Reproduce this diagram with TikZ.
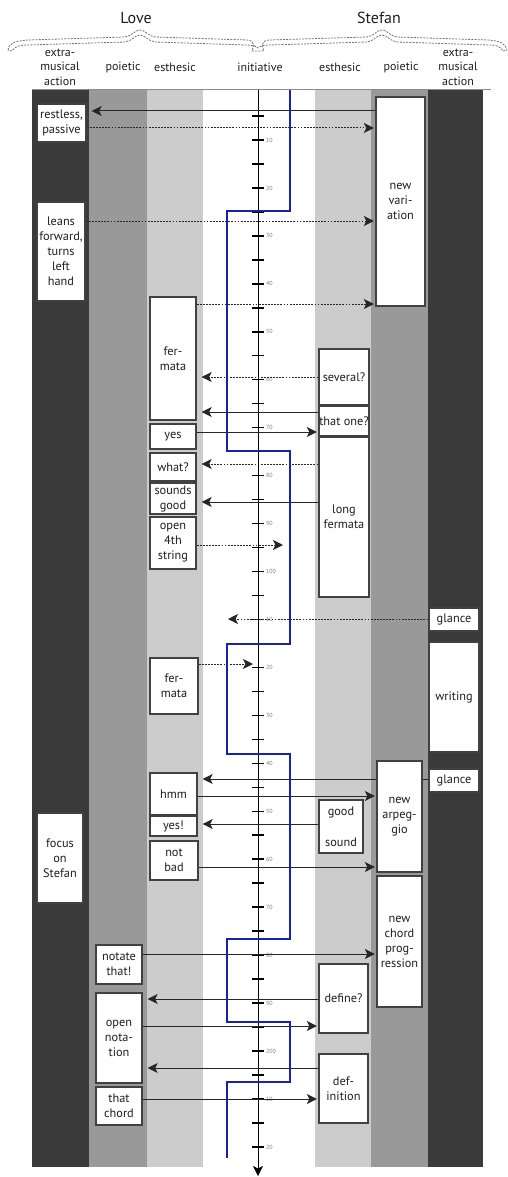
\documentclass[tikz,border=0pt]{standalone}
\usepackage{fontspec}
\setmainfont{PT Sans}
\usetikzlibrary{arrows.meta}
\definecolor{colDark}{RGB}{58,58,58}
\definecolor{colMid}{RGB}{153,153,153}
\definecolor{colLight}{RGB}{204,204,204}
\definecolor{lineBlue}{RGB}{25,35,170}
\definecolor{boxEdge}{RGB}{65,65,65}
\definecolor{txt}{RGB}{30,30,30}
\pgfdeclarelayer{bgl}
\pgfdeclarelayer{arrl}
\pgfsetlayers{bgl,arrl,main}
\begin{document}
\begin{tikzpicture}[x=1pt,y=-1pt,
  box/.style={draw=boxEdge, line width=1.4pt, fill=white, inner sep=0pt, align=center,
    font=\fontsize{12.3}{15}\selectfont, text=txt},
  hdr/.style={font=\fontsize{12}{14.5}\selectfont, text=txt, align=center, inner sep=0pt},
  who/.style={font=\fontsize{16}{18}\selectfont, text=txt, inner sep=0pt},
  arr/.style={-{Stealth[length=10pt,width=10pt,inset=2.5pt]}, line width=1pt, draw=black!85},
  darr/.style={arr, dash pattern=on 1.8pt off 1.3pt},
  gapL/.style={shorten >=5pt},
  gapR/.style={shorten >=1.5pt},
  axisline/.style={-{Stealth[length=10pt,width=10pt,inset=2.5pt]}, line width=1pt, draw=black},
  tickmark/.style={line width=1.5pt, draw=black},
  ticklbl/.style={font=\fontsize{6}{6}\selectfont, text=black!50, anchor=west, inner sep=0pt},
  blueline/.style={draw=lineBlue, line width=2.4pt},
  bracestyle/.style={draw=black!55, line width=0.8pt, dash pattern=on 2pt off 1.2pt}
]
\useasboundingbox (0,0) rectangle (508,1177);

% header
\node[who] (love) at (136,18) {Love};
\node[who] (stefan) at (379,18) {Stefan};
\draw[bracestyle] (8,50) .. controls (9,43) and (14,41) .. (28,40) -- (125,37)
  .. controls (132,36) and (135,30) .. (140,30) .. controls (145,30) and (148,36) .. (155,37)
  -- (247,40) .. controls (251,40) and (253,42) .. (254,45) -- (252,51) -- (264,51) -- (262,45)
  .. controls (263,42) and (265,40) .. (269,40) -- (367,37)
  .. controls (374,36) and (377,30) .. (382,30) .. controls (387,30) and (390,36) .. (397,37)
  -- (488,40) .. controls (500,41) and (505,43) .. (507,50) -- (503,51)
  .. controls (500,46) and (496,45) .. (488,45) -- (397,42)
  .. controls (390,41) and (387,35) .. (382,35) .. controls (377,35) and (374,41) .. (367,42)
  -- (270,45) .. controls (264,45) and (260,46) .. (258,48) .. controls (256,46) and (252,45) .. (246,45)
  -- (155,42) .. controls (148,41) and (145,35) .. (140,35) .. controls (135,35) and (132,41) .. (125,42)
  -- (28,45) .. controls (20,45) and (15,46) .. (12,51) -- cycle;

\node[hdr] (hExL) at (60,67) {extra-\\musical\\action};
\node[hdr] (hPoL) at (123,67) {poietic};
\node[hdr] (hEsL) at (175,67) {esthesic};
\node[hdr] (hIni) at (260,67) {initiative};
\node[hdr] (hEsR) at (340,67) {esthesic};
\node[hdr] (hPoR) at (401,67) {poietic};
\node[hdr] (hExR) at (458,67) {extra-\\musical\\action};

% columns
\begin{pgfonlayer}{bgl}
\fill[colDark] (32,90) rectangle (89,1167);
\fill[colMid] (89,90) rectangle (147,1167);
\fill[colLight] (147,90) rectangle (203,1167);
\fill[white] (203,90) rectangle (315,1167);
\fill[colLight] (315,90) rectangle (371,1167);
\fill[colMid] (371,90) rectangle (428,1167);
\fill[colDark] (428,90) rectangle (483,1167);
\draw[black!45, line width=1pt] (32,90) -- (491,90);
\coordinate (axtop) at (258,90);
\coordinate (axbot) at (258,1176);
\draw[axisline] (axtop) -- (axbot);
\foreach \t in {5,10,...,220} \draw[tickmark] (252,{92+4.795*\t}) -- (264,{92+4.795*\t});
\foreach \t/\l in {10/10,20/20,30/30,40/40,50/50,60/60,70/70,80/80,90/90,100/100,
  110/10,120/20,130/30,140/40,150/50,160/60,170/70,180/80,190/90,200/200,210/10,220/20}
  \node[ticklbl] at (266,{92+4.795*\t}) {\l};
\end{pgfonlayer}

% boxes
\node[box, minimum width=49pt, minimum height=38pt] (restless) at (61.5,123) {restless,\\passive};
\node[box, minimum width=48pt, minimum height=99pt] (leans) at (61,251.5) {leans\\forward,\\turns\\left\\hand};
\node[box, minimum width=46pt, minimum height=90pt] (focus) at (60,858) {focus\\on\\Stefan};

\node[box, minimum width=46pt, minimum height=39pt] (notate) at (119,964.5) {notate\\that!};
\node[box, minimum width=46pt, minimum height=90pt] (opennot) at (119,1038) {open\\nota-\\tion};
\node[box, minimum width=46pt, minimum height=38pt] (thatchord) at (119,1106) {that\\chord};

\node[box, minimum width=46pt, minimum height=123pt] (fermA) at (173,358.5) {fer-\\mata};
\node[box, minimum width=46pt, minimum height=25pt] (yes) at (173,436.5) {yes};
\node[box, minimum width=46pt, minimum height=28pt] (what) at (173,467) {what?};
\node[box, minimum width=46pt, minimum height=31pt] (soundsgood) at (173,498.5) {sounds\\good};
\node[box, minimum width=46pt, minimum height=52pt] (open4) at (173,543) {open\\4th\\string};
\node[box, minimum width=48pt, minimum height=56pt] (fermB) at (174,686) {fer-\\mata};
\node[box, minimum width=47pt, minimum height=42pt] (hmm) at (173.5,794) {hmm};
\node[box, minimum width=47pt, minimum height=20pt] (yesx) at (173.5,826) {yes!};
\node[box, minimum width=48pt, minimum height=39pt] (notbad) at (174,860.5) {not\\bad};

\node[box, minimum width=50pt, minimum height=56pt] (several) at (344,377) {several?};
\node[box, minimum width=50pt, minimum height=30pt] (thatone) at (344,421) {that one?};
\node[box, minimum width=50pt, minimum height=160pt] (longferm) at (344,517) {long\\fermata};
\node[box, minimum width=44pt, minimum height=53pt] (goodsound) at (341,826.5) {good\\[16pt]sound};
\node[box, minimum width=49pt, minimum height=69pt] (define) at (343.5,998.5) {define?};
\node[box, minimum width=49pt, minimum height=69pt] (definition) at (343.5,1088.5) {def-\\inition};

\node[box, minimum width=49pt, minimum height=209pt] (newvar) at (400.5,201.5) {new\\vari-\\ation};
\node[box, minimum width=45pt, minimum height=111pt] (newarp) at (399.5,816.5) {new\\arpeg-\\gio};
\node[box, minimum width=45pt, minimum height=131pt] (newchord) at (399.5,941.5) {new\\chord\\prog-\\ression};

\node[box, minimum width=50pt, minimum height=23pt] (glanceA) at (454,619.5) {glance};
\node[box, minimum width=50pt, minimum height=110pt] (writing) at (454,697) {writing};
\node[box, minimum width=50pt, minimum height=23pt] (glanceB) at (454,780.5) {glance};

% free ends
\coordinate (f1) at (283,545);
\coordinate (f2) at (228,619);
\coordinate (f3) at (253,664);

% arrows
\begin{pgfonlayer}{arrl}
\draw[arr, gapL] (newvar.west |- 0,111) -- (restless.east |- 0,111);
\draw[darr, gapR] (restless.east |- 0,128) -- (newvar.west |- 0,128);
\draw[darr, gapR] (leans.east |- 0,221) -- (newvar.west |- 0,221);
\draw[darr, gapR] (fermA.east |- 0,304) -- (newvar.west |- 0,304);
\draw[darr, gapL] (several.west |- 0,377) -- (fermA.east |- 0,377);
\draw[arr, gapL] (thatone.west |- 0,412) -- (fermA.east |- 0,412);
\draw[arr, gapR] (yes.east |- 0,432) -- (thatone.west |- 0,432);
\draw[darr, gapL] (longferm.west |- 0,464) -- (what.east |- 0,464);
\draw[arr, gapL] (longferm.west |- 0,502) -- (soundsgood.east |- 0,502);
\draw[darr] (open4.east |- f1) -- (f1);
\draw[darr] (glanceA.west |- f2) -- (f2);
\draw[darr] (fermB.east |- f3) -- (f3);
\draw[arr, gapL] (glanceB.west |- 0,779) -- (hmm.east |- 0,779);
\draw[arr, gapR] (hmm.east |- 0,796) -- (newarp.west |- 0,796);
\draw[arr, gapL] (goodsound.west |- 0,824) -- (yesx.east |- 0,824);
\draw[arr, gapR] (notbad.east |- 0,867) -- (newarp.west |- 0,867);
\draw[arr, gapR] (notate.east |- 0,954) -- (newchord.west |- 0,954);
\draw[arr, gapL] (define.west |- 0,999) -- (opennot.east |- 0,999);
\draw[arr, gapR] (opennot.east |- 0,1026) -- (define.west |- 0,1026);
\draw[arr, gapL] (definition.west |- 0,1068) -- (opennot.east |- 0,1068);
\draw[arr, gapR] (thatchord.east |- 0,1099) -- (definition.west |- 0,1099);
\end{pgfonlayer}

% initiative line
\draw[blueline] (290,90) -- (290,211) -- (227,211) -- (227,451) -- (290,451) -- (290,644)
  -- (227,644) -- (227,754) -- (290,754) -- (290,939) -- (227,939) -- (227,1022)
  -- (290,1022) -- (290,1082) -- (227,1082) -- (227,1158);
\end{tikzpicture}
\end{document}
